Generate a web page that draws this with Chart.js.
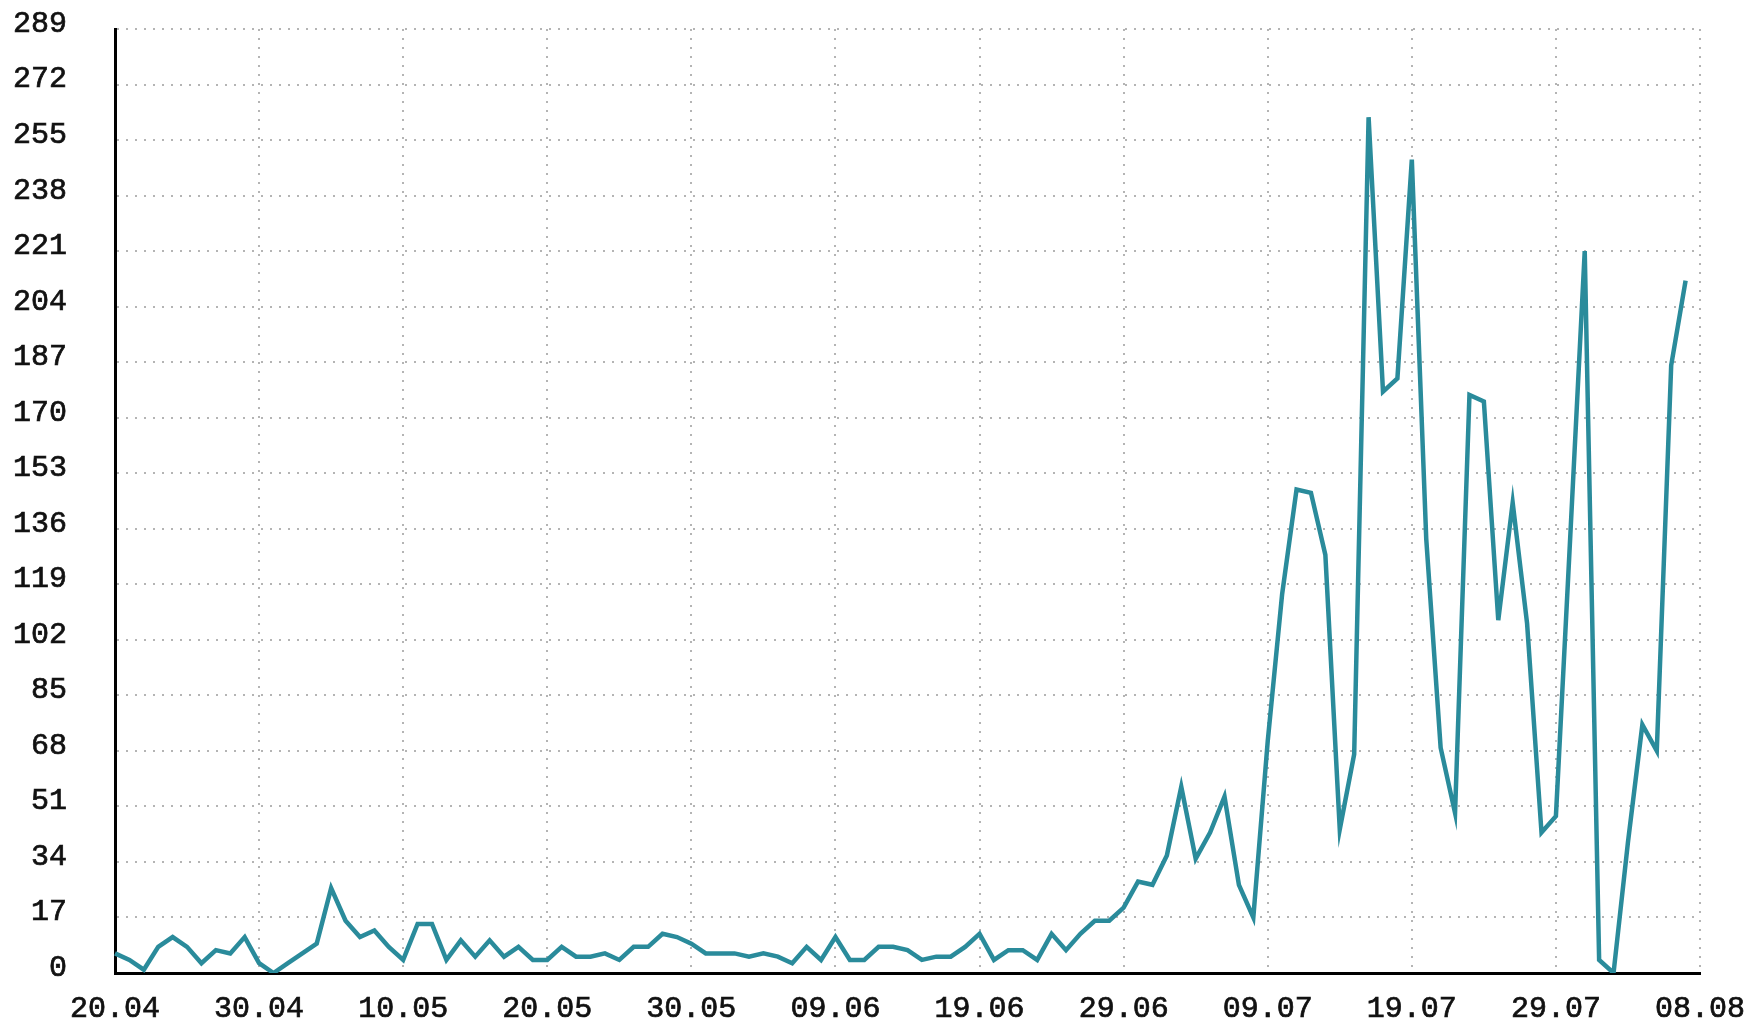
<!DOCTYPE html>
<html>
<head>
<meta charset="utf-8">
<script src="https://cdn.jsdelivr.net/npm/chart.js@4/dist/chart.umd.min.js"></script>
<style>
  html, body { margin: 0; padding: 0; background: #fff; }
  #wrap { width: 1750px; height: 1022px; }
</style>
</head>
<body>
<div id="wrap"><canvas id="cv" width="1750" height="1022"></canvas></div>
<script>
// daily values, 20.04 .. 07.08 (axis runs on to 08.08)
const values = [
  6, 4, 1, 8, 11, 8, 3, 7, 6, 11,
  3, 0, 3, 6, 9, 26, 16, 11, 13, 8,
  4, 15, 15, 4, 10, 5, 10, 5, 8, 4,
  4, 8, 5, 5, 6, 4, 8, 8, 12, 11,
  9, 6, 6, 6, 5, 6, 5, 3, 8, 4,
  11, 4, 4, 8, 8, 7, 4, 5, 5, 8,
  12, 4, 7, 7, 4, 12, 7, 12, 16, 16,
  20, 28, 27, 36, 57, 35, 43, 54, 27, 17,
  71, 116, 148, 147, 128, 44, 67, 262, 178, 182,
  249, 133, 69, 49, 177, 175, 108, 144, 107, 43,
  48, 134, 221, 4, 0, 40, 76, 68, 186, 212
];

const startDay = new Date(2020, 3, 20);
const dayCount = 111;
const days = [];
for (let i = 0; i < dayCount; i++) {
  const d = new Date(startDay.getTime());
  d.setDate(d.getDate() + i);
  days.push(String(d.getDate()).padStart(2, '0') + '.' + String(d.getMonth() + 1).padStart(2, '0'));
}

const yMax = 289;
const yStep = 17;
const tickEvery = 10;

const lineColor = '#2a8b9b';
const gridColor = '#b4b4b4';
const textColor = '#111';
const font = { family: 'Liberation Mono', size: 30 };

const ctx = document.getElementById('cv').getContext('2d');
new Chart(ctx, {
  type: 'line',
  data: {
    labels: days,
    datasets: [{
      data: values,
      borderColor: lineColor,
      borderWidth: 4.5,
      pointRadius: 0,
      tension: 0,
      fill: false
    }]
  },
  options: {
    responsive: false,
    animation: false,
    layout: { padding: { top: 29, right: 50, left: 0, bottom: 0 } },
    plugins: { legend: { display: false }, tooltip: { enabled: false } },
    scales: {
      x: {
        type: 'category',
        grid: {
          drawTicks: false,
          lineWidth: 2,
          color: (c) => (c.index % tickEvery === 0 ? gridColor : 'transparent')
        },
        border: { color: '#000', width: 3, dash: [2, 7] },
        ticks: {
          autoSkip: false,
          maxRotation: 0,
          minRotation: 0,
          padding: 18,
          color: textColor,
          textStrokeColor: textColor,
          textStrokeWidth: 0.7,
          font,
          callback: function(v, i) { return i % tickEvery === 0 ? this.getLabelForValue(v) : ''; }
        },
        afterFit: (s) => { s.height = 49; s.paddingLeft = 0; s.paddingRight = 0; }
      },
      y: {
        min: 0,
        max: yMax,
        grid: { drawTicks: false, lineWidth: 2, color: gridColor },
        border: { color: '#000', width: 3, dash: [2, 7] },
        ticks: {
          stepSize: yStep,
          padding: 48,
          labelOffset: -5,
          color: textColor,
          textStrokeColor: textColor,
          textStrokeWidth: 0.7,
          font
        },
        afterFit: (s) => { s.width = 115; s.paddingTop = 0; s.paddingBottom = 0; }
      }
    }
  }
});
</script>
</body>
</html>
